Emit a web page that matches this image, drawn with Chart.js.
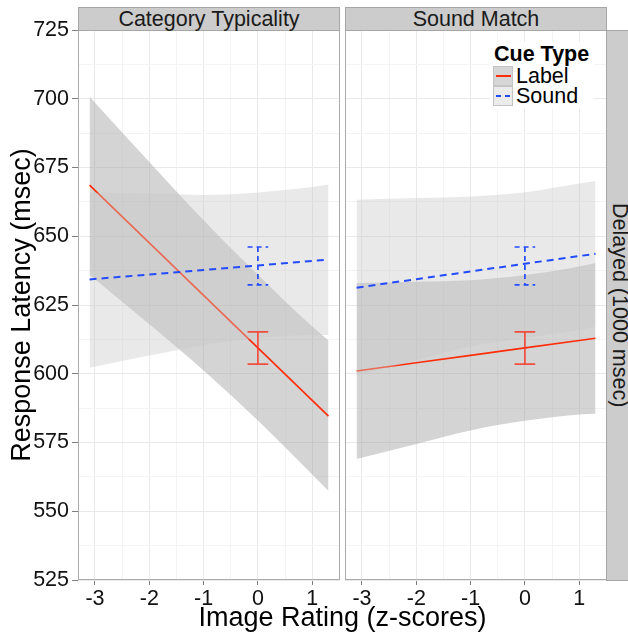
<!DOCTYPE html>
<html>
<head>
<meta charset="utf-8">
<script src="https://cdn.jsdelivr.net/npm/chart.js@4.4.1/dist/chart.umd.min.js"></script>
<style>
  body { margin: 0; background: #fff; font-family: "Liberation Sans", Arial, sans-serif; }
  #wrap { position: relative; width: 628px; height: 634px; overflow: hidden; background: #fff; }
  canvas { position: absolute; top: 0; }
  .strip { position: absolute; box-sizing: border-box; background: #cccccc; border: 1px solid #a6a6a6;
           color: #1a1a1a; font-size: 21.5px; text-align: center; white-space: nowrap; }
  .abs { position: absolute; white-space: nowrap; color: #000; }
</style>
</head>
<body>
<div id="wrap">
  <canvas id="typChart" width="342" height="634" style="left:0"></canvas>
  <canvas id="matchChart" width="286" height="634" style="left:342px"></canvas>

  <div class="strip" style="left:78px; top:7px; width:262px; height:24px; line-height:22px;">Category Typicality</div>
  <div class="strip" style="left:345px; top:7px; width:262px; height:24px; line-height:22px;">Sound Match</div>
  <div class="strip" style="left:606px; top:30px; width:26px; height:551px; line-height:22px; writing-mode:vertical-rl;">Delayed (1000 msec)</div>

  <!-- legend -->
  <div class="abs" style="left:490px; top:42px; width:104px; height:67px; background:#fff;"></div>
  <div class="abs" style="left:494px; top:44px; font-size:21.5px; font-weight:bold; line-height:21.5px;">Cue Type</div>
  <div class="abs" style="left:493px; top:66px; width:20px; height:20px; box-sizing:border-box; background:#d6d6d6; border:1px solid #c4c4c4;"></div>
  <div class="abs" style="left:493px; top:86px; width:20px; height:20px; box-sizing:border-box; background:#ebebeb; border:1px solid #c4c4c4;"></div>
  <div class="abs" style="left:496px; top:75px; width:15px; height:2px; background:rgb(255,45,10);"></div>
  <div class="abs" style="left:496px; top:95px; width:15px; height:2px; background:repeating-linear-gradient(to right, rgb(35,75,255) 0 5px, transparent 5px 9px);"></div>
  <div class="abs" style="left:516px; top:66px; font-size:21.5px; line-height:20px;">Label</div>
  <div class="abs" style="left:516px; top:86px; font-size:21.5px; line-height:20px;">Sound</div>

  <div class="abs" style="left:78px; top:602px; width:529px; text-align:center; font-size:27px; line-height:30px;">Image Rating (z-scores)</div>
</div>

<script>
// ================= DATA =================
// x positions where the fitted lines / bands were read off
const xFit = [-3.1, -2, -1, 0, 1, 1.3];

// Category Typicality panel
const typLabelFit = [668.6, 647.6, 628.5, 609.4, 590.3, 584.6];
const typLabelHi  = [700.7, 677.0, 655.8, 636.0, 617.2, 612.2];
const typLabelLo  = [636.0, 618.0, 601.2, 583.0, 563.4, 557.4];
const typSoundFit = [634.3, 636.1, 637.7, 639.4, 641.0, 641.5];
const typSoundHi  = [665.8, 665.6, 665.0, 665.9, 667.9, 668.8];
const typSoundLo  = [602.2, 606.6, 610.4, 612.9, 614.1, 614.1];

// Sound Match panel
const mtcLabelFit = [601.0, 604.0, 606.7, 609.4, 612.1, 612.9];
const mtcLabelHi  = [633.0, 633.5, 634.0, 635.9, 639.0, 640.3];
const mtcLabelLo  = [569.0, 574.5, 579.4, 582.9, 585.2, 585.5];
const mtcSoundFit = [631.3, 634.4, 637.2, 640.0, 642.8, 643.6];
const mtcSoundHi  = [663.3, 663.9, 664.5, 666.0, 669.2, 670.0];
const mtcSoundLo  = [599.3, 604.9, 609.9, 613.0, 615.9, 617.0];

// error bars at x = 0  [low, high]
const errX = 0;
const typLabelErr = [603.5, 615.2];
const typSoundErr = [632.3, 646.1];
const mtcLabelErr = [603.5, 615.2];
const mtcSoundErr = [632.3, 646.1];

// axis ticks
const xTicks = [-3, -2, -1, 0, 1];
const yTicks = [525, 550, 575, 600, 625, 650, 675, 700, 725];

// ================= STYLE =================
const RED = "rgb(255,45,10)";
const RED_ERR = "rgba(245,55,35,0.85)";
const BLUE = "rgb(35,75,255)";
const LABEL_BAND = "rgba(160,160,160,0.45)";
const SOUND_BAND = "rgba(200,200,200,0.4)";
const GRID_MAJOR = "#e9e9e9";
const GRID_MINOR = "#f4f4f4";
const TICK_COLOR = "#808080";
const CAP = 0.19;
const X_MIN = -3.313, X_MAX = 1.512;
const Y_MIN = 525, Y_MAX = 725;

Chart.defaults.font.family = '"Liberation Sans", Arial, sans-serif';

// minor grid halfway between major ticks
const xGrid = [];
xTicks.forEach(v => { xGrid.push(v); xGrid.push(v + 0.5); });
const yGrid = [];
yTicks.forEach((v, i) => { yGrid.push(v); if (i < yTicks.length - 1) yGrid.push(v + 12.5); });

function pts(ys) {
  return xFit.map((x, i) => ({ x: x, y: ys[i] }));
}

function errPts(e) {
  const lo = e[0], hi = e[1];
  return [
    { x: errX - CAP, y: hi }, { x: errX + CAP, y: hi }, { x: errX, y: null },
    { x: errX, y: hi }, { x: errX, y: lo }, { x: errX, y: null },
    { x: errX - CAP, y: lo }, { x: errX + CAP, y: lo }
  ];
}

function panelData(lab, snd) {
  return {
    datasets: [
      { data: pts(lab.hi), fill: "+1", backgroundColor: LABEL_BAND, borderWidth: 0, cubicInterpolationMode: "monotone", order: 7 },
      { data: pts(lab.lo), fill: false, borderWidth: 0, cubicInterpolationMode: "monotone", order: 7 },
      { data: pts(lab.fit), fill: false, borderColor: RED, borderWidth: 1.7, order: 6 },
      { data: pts(snd.hi), fill: "+1", backgroundColor: SOUND_BAND, borderWidth: 0, cubicInterpolationMode: "monotone", order: 5 },
      { data: pts(snd.lo), fill: false, borderWidth: 0, cubicInterpolationMode: "monotone", order: 5 },
      { data: pts(snd.fit), fill: false, borderColor: BLUE, borderWidth: 2, borderDash: [7, 5], order: 4 },
      { data: errPts(lab.err), fill: false, borderColor: RED_ERR, borderWidth: 1.7, spanGaps: false, order: 3 },
      { data: errPts(snd.err), fill: false, borderColor: BLUE, borderWidth: 1.7, borderDash: [5, 4], spanGaps: false, order: 2 }
    ]
  };
}

// panel border around the chart area
const panelBorder = {
  id: "panelBorder",
  afterDraw(chart) {
    const a = chart.chartArea, c = chart.ctx;
    c.save();
    c.strokeStyle = "#ababab";
    c.lineWidth = 1;
    c.strokeRect(a.left + 0.5, a.top + 0.5, a.right - a.left - 1, a.bottom - a.top - 1);
    c.restore();
  }
};

function makeOptions(showY, padding) {
  return {
    responsive: false,
    animation: false,
    events: [],
    layout: { padding: padding },
    plugins: { legend: { display: false }, tooltip: { enabled: false } },
    elements: { point: { radius: 0 }, line: { tension: 0 } },
    scales: {
      x: {
        type: "linear", min: X_MIN, max: X_MAX,
        afterBuildTicks: s => { s.ticks = xGrid.map(v => ({ value: v })); },
        afterFit: s => { s.height = 54; },
        border: { display: false },
        grid: {
          color: c => (xTicks.includes(c.tick.value) ? GRID_MAJOR : GRID_MINOR),
          tickColor: c => (xTicks.includes(c.tick.value) ? TICK_COLOR : "rgba(0,0,0,0)"),
          tickLength: 5
        },
        ticks: {
          autoSkip: false, maxRotation: 0, minRotation: 0, padding: 1,
          color: "#111", font: { size: 21.5 },
          callback: v => (xTicks.includes(v) ? String(v) : "")
        }
      },
      y: {
        type: "linear", min: Y_MIN, max: Y_MAX,
        afterBuildTicks: s => { s.ticks = yGrid.map(v => ({ value: v })); },
        afterFit: s => { s.width = showY ? 78 : 0; },
        border: { display: false },
        grid: {
          color: c => (yTicks.includes(c.tick.value) ? GRID_MAJOR : GRID_MINOR),
          tickColor: c => (yTicks.includes(c.tick.value) ? TICK_COLOR : "rgba(0,0,0,0)"),
          tickLength: 6,
          drawTicks: showY
        },
        ticks: {
          display: showY, autoSkip: false, padding: 3,
          color: "#111", font: { size: 21.5 },
          callback: v => (yTicks.includes(v) ? String(v) : "")
        },
        title: {
          display: showY, text: "Response Latency (msec)",
          color: "#000", font: { size: 27 }, padding: { top: 6, bottom: 0 }
        }
      }
    }
  };
}

new Chart(document.getElementById("typChart"), {
  type: "line",
  data: panelData(
    { fit: typLabelFit, hi: typLabelHi, lo: typLabelLo, err: typLabelErr },
    { fit: typSoundFit, hi: typSoundHi, lo: typSoundLo, err: typSoundErr }
  ),
  options: makeOptions(true, { top: 30, right: 2, bottom: 0, left: 0 }),
  plugins: [panelBorder]
});

new Chart(document.getElementById("matchChart"), {
  type: "line",
  data: panelData(
    { fit: mtcLabelFit, hi: mtcLabelHi, lo: mtcLabelLo, err: mtcLabelErr },
    { fit: mtcSoundFit, hi: mtcSoundHi, lo: mtcSoundLo, err: mtcSoundErr }
  ),
  options: makeOptions(false, { top: 30, right: 21, bottom: 0, left: 3 }),
  plugins: [panelBorder]
});
</script>
</body>
</html>
